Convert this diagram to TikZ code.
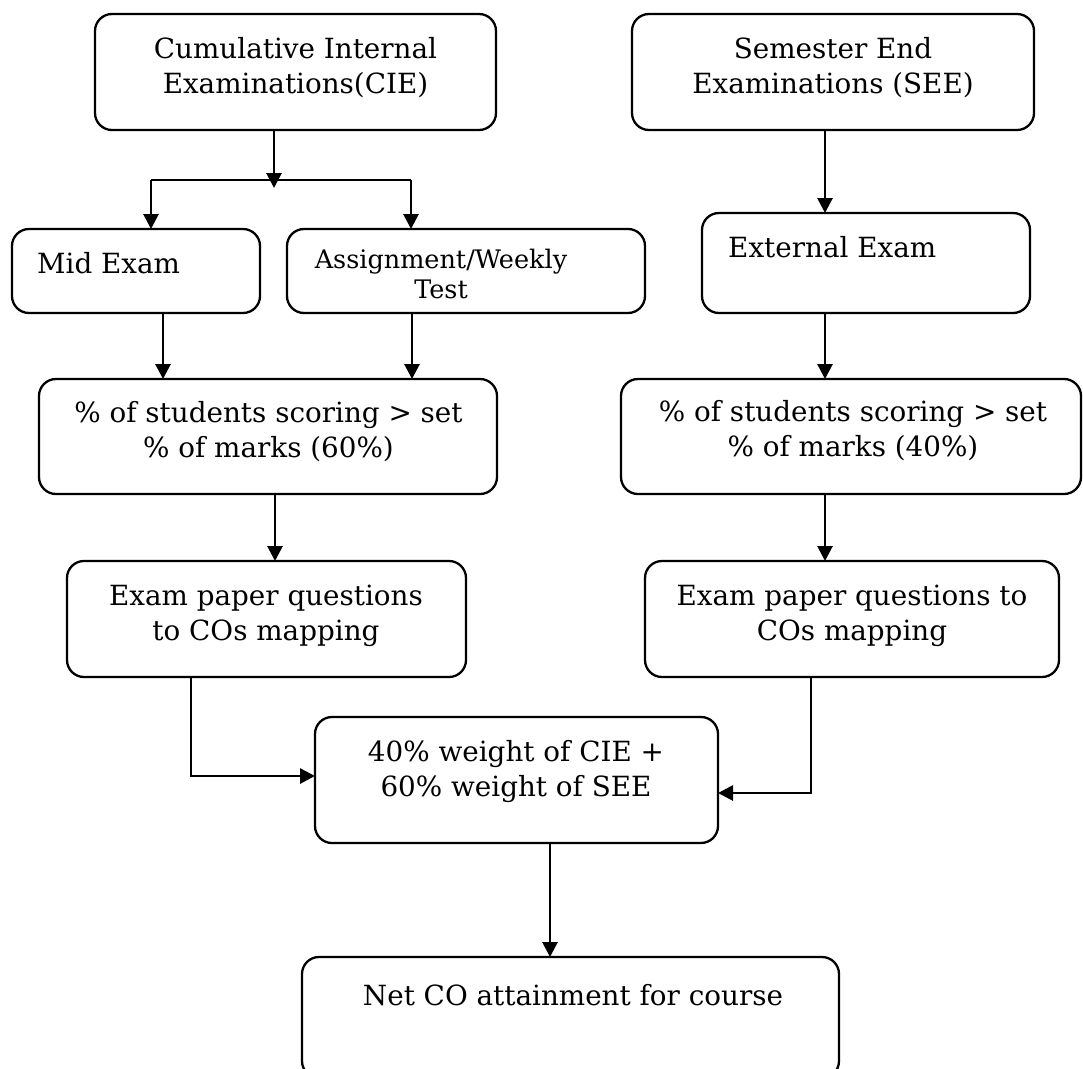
\documentclass[tikz,border=0pt]{standalone}
\usepackage{fontspec}
\setmainfont{DejaVu Serif}
\usetikzlibrary{arrows.meta}
\newcommand\bx[5]{\node[box, minimum width={#4-#2}, minimum height={#5-#3}] (#1) at ({(#2+#4)/2},{(#3+#5)/2}) {};}
\begin{document}
\begin{tikzpicture}[x=1pt,y=-1pt,
  box/.style={draw, line width=2.3pt, rounded corners=17pt, inner sep=0pt, outer sep=0pt},
  lbl/.style={font=\fontsize{27.8}{35}\selectfont, align=center, inner sep=0pt, anchor=base},
  small/.style={font=\fontsize{25.5}{30}\selectfont},
  arr/.style={line width=2.8pt, -{Triangle[length=15pt,width=15pt]}},
  ln/.style={line width=2.8pt}]
\useasboundingbox (0,0) rectangle (1083,1068);
\fill[white] (0,0) rectangle (1083,1068);
% boxes
\bx{cie}{95}{14}{496}{130}
\bx{see}{632}{14}{1034}{130}
\bx{mid}{12}{229}{260}{313}
\bx{asg}{287}{229}{645}{313}
\bx{ext}{702}{213}{1030}{313}
\bx{pa}{39}{379}{497}{494}
\bx{pb}{621}{379}{1081}{494}
\bx{exl}{67}{561}{466}{677}
\bx{exr}{645}{561}{1059}{677}
\bx{wt}{315}{717}{718}{843}
\bx{net}{302}{957}{839}{1078}
% texts (anchor base = baseline of the last line)
\node[lbl] (cieT) at (295.5,93) {Cumulative Internal\\Examinations(CIE)};
\node[lbl] (seeT) at (833,93) {Semester End\\Examinations (SEE)};
\node[lbl, anchor=base west] (midT) at (37,273) {Mid Exam};
\node[lbl, small] (asgT) at (441,298) {Assignment/Weekly\\Test};
\node[lbl, anchor=base west] (extT) at (728,257) {External Exam};
\node[lbl] (paT) at (268.5,457) {\% of students scoring > set\\\% of marks (60\%)};
\node[lbl] (pbT) at (853,456) {\% of students scoring > set\\\% of marks (40\%)};
\node[lbl] (exlT) at (266,640) {Exam paper questions\\to COs mapping};
\node[lbl] (exrT) at (852,640) {Exam paper questions to\\COs mapping};
\node[lbl] (wtT) at (516,796) {40\% weight of CIE +\\60\% weight of SEE};
\node[lbl] (netT) at (573,1005) {Net CO attainment for course};
% connectors
\coordinate (jt) at (274,188);
\coordinate (jl) at (151,180);
\coordinate (jr) at (411,180);
\draw[arr] (cie.south -| jt) -- (jt);
\draw[ln] (jl) -- (jr);
\draw[arr] (jl) -- (jl |- mid.north);
\draw[arr] (jr) -- (jr |- asg.north);
\coordinate (sx) at (825,0);
\draw[arr] (see.south -| sx) -- (ext.north -| sx);
\draw[arr] (ext.south -| sx) -- (pb.north -| sx);
\draw[arr] (pb.south -| sx) -- (exr.north -| sx);
\coordinate (mx) at (163,0);
\draw[arr] (mid.south -| mx) -- (pa.north -| mx);
\coordinate (ax) at (412,0);
\draw[arr] (asg.south -| ax) -- (pa.north -| ax);
\coordinate (px) at (275,0);
\draw[arr] (pa.south -| px) -- (exl.north -| px);
\coordinate (lc) at (191,776);
\draw[arr] (exl.south -| lc) -- (lc) -- (wt.west |- lc);
\coordinate (rc) at (811,793);
\draw[arr] (exr.south -| rc) -- (rc) -- (wt.east |- rc);
\coordinate (wx) at (550,0);
\draw[arr] (wt.south -| wx) -- (net.north -| wx);
\end{tikzpicture}
\end{document}
